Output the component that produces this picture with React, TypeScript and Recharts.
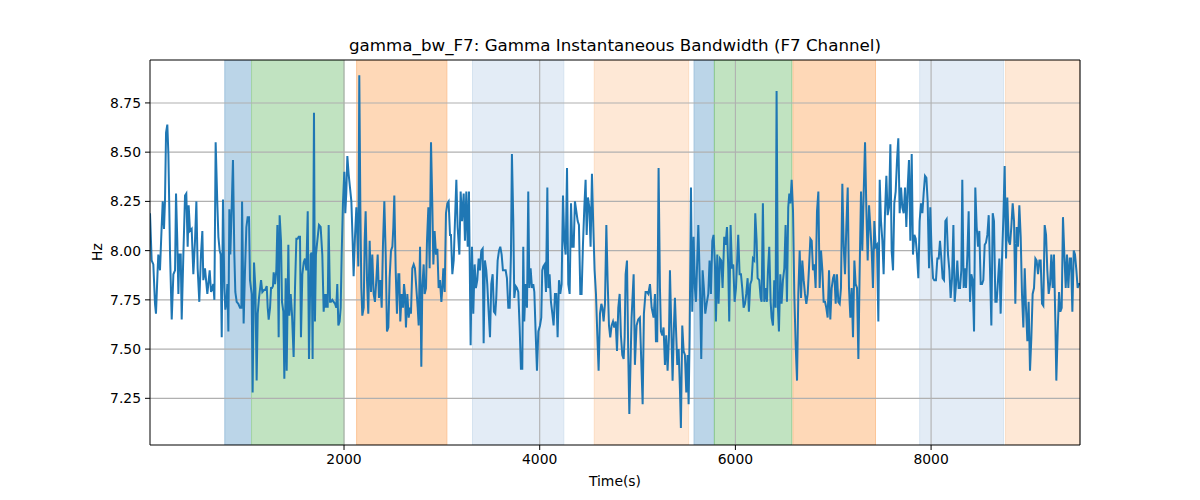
import React from "react";
import {
  LineChart,
  Line,
  XAxis,
  YAxis,
  CartesianGrid,
  ReferenceArea,
  ReferenceLine,
} from "recharts";

// [time (s), bandwidth (Hz)] readings, by stretch of the recording
const seg1: [number, number][] = [
  [17, 8.19], [34, 7.95], [51, 7.93], [68, 7.73], [78, 7.68], [95, 7.9], [102, 7.98], [119, 7.9],
  [136, 8.12], [147, 8.25], [160, 8.11], [170, 8.25], [181, 8.6], [194, 8.64], [205, 8.49], [222, 7.98],
  [239, 7.65], [256, 7.88], [273, 7.9], [283, 8.29], [296, 8.05], [307, 7.78], [317, 7.98], [331, 7.98],
  [341, 7.65], [358, 7.98], [375, 8.28], [388, 8.29], [402, 8.02], [412, 8.23], [426, 8.1], [443, 8.11],
  [460, 7.88], [477, 8.05], [491, 8.25], [504, 7.91], [521, 7.74], [538, 7.98], [552, 8.1], [562, 7.85],
  [579, 7.91], [590, 7.85], [603, 7.78], [613, 7.83], [627, 7.9], [641, 7.79], [654, 7.81], [664, 7.83],
  [675, 7.75], [688, 8.55], [705, 8.24], [716, 8.07], [729, 8.0], [739, 7.98], [750, 7.56], [763, 8.26],
  [777, 7.81], [787, 7.7], [797, 7.73], [808, 7.83], [818, 7.59], [828, 8.21], [838, 7.98], [852, 8.22],
  [865, 8.46], [879, 7.98], [889, 7.79], [903, 7.74], [920, 7.73], [937, 7.71], [951, 7.71], [958, 8.25],
  [974, 7.63], [988, 7.9], [1002, 8.12], [1015, 8.17], [1029, 8.17], [1039, 7.85], [1056, 7.78], [1066, 7.28],
  [1080, 7.94], [1094, 7.81], [1107, 7.34], [1118, 7.68], [1131, 7.76], [1152, 7.85], [1165, 7.79], [1182, 7.8],
  [1193, 7.8], [1210, 7.82], [1220, 7.71], [1230, 7.65], [1244, 7.71], [1254, 7.81], [1264, 7.81], [1274, 7.82],
  [1281, 7.89], [1295, 7.83], [1308, 7.9], [1319, 8.13], [1332, 7.56], [1342, 8.18], [1356, 8.05], [1366, 7.74],
  [1380, 7.69], [1390, 7.35], [1404, 7.86], [1414, 7.39], [1431, 8.03], [1441, 7.67], [1455, 7.78], [1468, 7.68],
  [1485, 7.46], [1499, 7.81], [1513, 8.06], [1526, 8.06], [1537, 8.07], [1550, 8.07], [1560, 7.56], [1574, 7.88],
  [1588, 7.94], [1601, 7.96], [1615, 7.9], [1629, 8.2], [1642, 7.45],
];

const seg2: [number, number][] = [
  [1659, 7.98], [1669, 7.99], [1679, 7.45], [1693, 8.7], [1703, 7.64], [1713, 7.98], [1727, 8.05], [1744, 8.13],
  [1761, 8.12], [1778, 7.98], [1792, 7.69], [1802, 7.78], [1812, 7.71], [1822, 7.78], [1833, 7.71], [1843, 8.13],
  [1857, 7.74], [1867, 7.74], [1880, 7.75], [1894, 7.74], [1908, 7.73], [1921, 7.71], [1931, 7.83], [1942, 7.62],
  [1955, 7.64], [1966, 7.71], [1976, 7.98], [1989, 8.24], [2003, 8.4], [2013, 8.19], [2023, 8.29], [2034, 8.48],
  [2047, 8.39], [2061, 8.32], [2075, 8.25], [2088, 8.05], [2098, 7.87], [2112, 8.07], [2126, 8.22], [2136, 8.08],
  [2146, 7.92], [2156, 8.89], [2167, 8.22], [2177, 7.81], [2187, 7.67], [2201, 7.71], [2211, 8.05], [2221, 8.2],
  [2235, 7.85], [2248, 7.68], [2262, 8.05], [2276, 7.79], [2289, 7.98], [2303, 7.78], [2316, 7.74], [2330, 7.85],
  [2344, 7.98], [2357, 7.76], [2371, 7.85], [2385, 7.71], [2398, 8.03], [2412, 8.25], [2426, 7.98], [2439, 7.59],
  [2453, 7.61], [2466, 7.86], [2480, 8.0], [2494, 8.02], [2504, 8.12], [2514, 8.28], [2528, 7.9], [2541, 7.68],
  [2555, 7.88], [2565, 7.88], [2575, 7.64], [2589, 7.78], [2603, 7.71], [2613, 7.83], [2623, 7.78], [2633, 7.61],
  [2647, 7.78], [2661, 7.66], [2674, 7.71], [2684, 7.68], [2698, 7.91], [2712, 7.93], [2725, 7.91], [2739, 7.81],
  [2753, 7.71], [2763, 7.62], [2777, 8.02], [2790, 7.41], [2800, 7.81], [2814, 7.93], [2824, 7.78], [2838, 7.81],
  [2848, 8.05], [2862, 8.22], [2875, 7.91], [2889, 8.55], [2902, 8.24], [2913, 7.93], [2926, 8.1], [2940, 7.98],
  [2954, 8.01], [2967, 7.81], [2981, 7.85], [2995, 7.74], [3005, 7.81], [3015, 7.91], [3029, 7.79], [3042, 8.19],
  [3056, 8.24], [3069, 8.25], [3083, 8.08], [3093, 8.08], [3107, 7.88], [3121, 7.95], [3134, 8.15], [3148, 8.36],
  [3161, 8.12], [3179, 7.98], [3192, 8.3], [3206, 8.15], [3223, 8.29], [3236, 8.05], [3250, 8.3], [3264, 8.02],
  [3277, 8.3],
];

const seg3: [number, number][] = [
  [3294, 7.52], [3308, 8.02], [3321, 7.68], [3335, 7.93], [3348, 7.81], [3362, 7.85], [3376, 7.96], [3389, 7.9],
  [3403, 8.0], [3417, 8.01], [3427, 7.53], [3440, 7.95], [3454, 7.9], [3464, 7.83], [3478, 7.69], [3492, 7.56],
  [3505, 7.83], [3519, 7.88], [3532, 7.69], [3546, 7.68], [3556, 7.76], [3570, 7.95], [3584, 8.0], [3597, 8.02],
  [3611, 7.98], [3624, 7.9], [3638, 7.9], [3652, 7.9], [3665, 7.86], [3679, 7.71], [3693, 7.71], [3706, 7.98],
  [3716, 8.49], [3730, 8.15], [3740, 7.76], [3754, 7.82], [3767, 7.81], [3781, 7.79], [3795, 7.61], [3808, 7.4],
  [3822, 7.4], [3832, 8.02], [3842, 7.64], [3856, 7.83], [3870, 7.71], [3883, 8.3], [3894, 7.81], [3907, 7.91],
  [3921, 7.81], [3934, 7.83], [3945, 7.79], [3958, 7.59], [3972, 7.39], [3986, 7.59], [4003, 7.62], [4016, 7.66],
  [4026, 7.9], [4037, 7.92], [4050, 7.93], [4064, 7.79], [4078, 8.32], [4088, 7.81], [4101, 7.88], [4115, 7.74],
  [4129, 7.68], [4142, 7.62], [4156, 7.78], [4170, 7.78], [4183, 7.56], [4197, 7.85], [4210, 7.78], [4224, 7.83],
  [4238, 8.28], [4251, 8.05], [4265, 7.98], [4279, 8.42], [4292, 7.83], [4306, 7.78], [4320, 8.24], [4333, 8.02],
  [4347, 8.02], [4360, 8.25], [4374, 8.2], [4388, 8.15], [4401, 8.13], [4415, 7.78], [4428, 7.78], [4442, 8.03],
  [4456, 8.22], [4469, 8.36], [4480, 8.08], [4493, 8.27], [4507, 8.22], [4520, 8.02], [4534, 8.39], [4548, 8.12],
  [4561, 7.9], [4575, 7.78], [4589, 7.57], [4602, 7.39], [4616, 7.68], [4630, 7.73], [4640, 7.71], [4653, 7.64],
  [4667, 7.73], [4681, 8.13], [4694, 7.85], [4708, 7.62], [4721, 7.56], [4735, 7.62], [4749, 7.64], [4762, 7.61],
  [4776, 7.64], [4790, 7.49], [4803, 7.71], [4817, 7.78], [4830, 7.57], [4844, 7.47], [4858, 7.45], [4868, 7.56],
  [4878, 7.88], [4892, 7.95], [4905, 7.47], [4916, 7.17],
];

const seg4: [number, number][] = [
  [4939, 7.66], [4960, 7.88], [4973, 7.42], [4990, 7.62], [5007, 7.65], [5024, 7.66], [5041, 7.39], [5052, 7.22],
  [5065, 7.68], [5082, 7.79], [5096, 7.79], [5110, 7.78], [5127, 7.83], [5144, 7.71], [5164, 7.66], [5178, 7.78],
  [5188, 7.54], [5201, 7.54], [5215, 8.42], [5229, 7.81], [5239, 7.59], [5253, 7.57], [5266, 7.61], [5280, 7.42],
  [5293, 7.57], [5307, 7.39], [5321, 7.56], [5331, 7.9], [5345, 7.61], [5358, 7.34], [5372, 7.62], [5382, 7.76],
  [5396, 7.56], [5406, 7.42], [5420, 7.5], [5433, 7.3], [5443, 7.1], [5457, 7.62], [5471, 7.49], [5484, 7.47],
  [5498, 7.28], [5511, 7.47], [5522, 7.22], [5532, 7.56], [5546, 8.32], [5559, 7.69], [5573, 8.07], [5586, 7.81],
  [5597, 7.74], [5610, 7.95], [5621, 8.13], [5638, 7.81], [5651, 7.45], [5665, 7.9], [5678, 7.81], [5692, 7.68],
  [5706, 7.73], [5723, 7.78], [5736, 7.95], [5750, 7.78], [5764, 8.05], [5777, 8.08], [5791, 7.93], [5801, 7.64],
  [5815, 7.98], [5828, 7.73], [5842, 7.96], [5856, 7.95], [5869, 7.81], [5886, 8.07], [5900, 8.03], [5914, 8.12],
  [5927, 7.91], [5937, 7.64], [5951, 8.13], [5965, 7.91], [5978, 7.93], [5992, 7.74], [6006, 7.81], [6019, 7.96],
  [6029, 8.08], [6043, 7.88], [6057, 7.88], [6070, 7.81], [6084, 7.71], [6098, 7.73], [6111, 7.78], [6125, 7.86],
  [6138, 7.69], [6152, 7.83], [6166, 7.85], [6179, 7.96], [6193, 7.95], [6203, 8.19], [6217, 8.05], [6227, 7.86],
  [6244, 7.85], [6258, 7.76], [6268, 7.74], [6281, 8.24], [6295, 7.74], [6309, 7.81], [6322, 7.74], [6333, 7.9],
  [6346, 8.02], [6360, 7.74], [6370, 7.66], [6384, 7.62], [6397, 7.85], [6411, 7.71], [6421, 8.81], [6435, 7.71],
  [6445, 7.59], [6459, 7.88], [6472, 7.73], [6486, 7.85], [6500, 7.91], [6513, 8.13], [6527, 7.74], [6540, 8.22],
  [6551, 8.29],
];

const seg5: [number, number][] = [
  [6562, 8.24], [6575, 8.36], [6589, 8.2], [6602, 7.78], [6616, 7.52], [6630, 7.34], [6643, 7.78], [6657, 8.0],
  [6671, 7.76], [6684, 7.95], [6698, 7.85], [6711, 7.78], [6725, 7.73], [6739, 7.78], [6752, 7.91], [6766, 8.06],
  [6780, 8.05], [6793, 7.9], [6807, 7.93], [6820, 7.81], [6834, 8.2], [6848, 8.3], [6861, 7.81], [6875, 8.0],
  [6889, 7.9], [6902, 7.74], [6916, 7.74], [6929, 7.71], [6943, 7.66], [6957, 7.9], [6970, 7.65], [6984, 7.81],
  [6998, 7.86], [7011, 7.88], [7025, 7.73], [7038, 7.88], [7052, 7.74], [7066, 7.73], [7079, 7.81], [7093, 8.34],
  [7107, 8.02], [7120, 7.88], [7134, 8.12], [7148, 8.32], [7161, 7.81], [7175, 7.66], [7188, 7.81], [7202, 7.56],
  [7216, 7.95], [7229, 7.83], [7243, 7.81], [7257, 7.45], [7270, 7.9], [7284, 8.3], [7297, 8.0], [7311, 8.29],
  [7325, 8.55], [7338, 8.22], [7352, 7.95], [7366, 8.23], [7379, 8.12], [7393, 8.0], [7406, 7.81], [7420, 8.15],
  [7434, 8.02], [7447, 8.03], [7461, 7.64], [7475, 8.36], [7488, 8.15], [7502, 8.05], [7515, 7.88], [7529, 8.19],
  [7543, 8.38], [7556, 8.18], [7570, 8.22], [7584, 8.54], [7597, 8.0], [7611, 7.9], [7624, 8.24], [7638, 8.3],
  [7652, 8.46], [7665, 8.57], [7679, 8.19], [7693, 8.32], [7706, 8.22], [7720, 8.19], [7734, 8.32], [7747, 8.12],
  [7761, 8.32], [7774, 8.46], [7788, 8.05], [7802, 8.49], [7815, 7.98], [7829, 8.08], [7843, 8.06], [7856, 7.98],
  [7870, 7.86], [7883, 8.15], [7897, 8.24], [7911, 8.19], [7924, 8.29], [7938, 8.38], [7952, 8.37], [7965, 8.25],
  [7979, 7.91], [7992, 8.22], [8006, 7.98], [8020, 7.86], [8033, 7.85],
];

const seg6: [number, number][] = [
  [8050, 7.85], [8064, 7.96], [8078, 7.96], [8091, 8.05], [8105, 7.96], [8118, 7.86], [8132, 7.85], [8146, 8.15],
  [8159, 8.16], [8173, 7.98], [8187, 7.9], [8200, 7.76], [8214, 7.86], [8228, 8.13], [8241, 7.74], [8255, 7.83],
  [8268, 7.95], [8282, 7.81], [8296, 7.81], [8309, 7.9], [8319, 8.36], [8333, 7.81], [8347, 7.91], [8357, 7.81],
  [8371, 7.98], [8384, 8.2], [8398, 7.74], [8411, 7.88], [8425, 7.85], [8439, 7.59], [8452, 8.32], [8466, 8.12],
  [8480, 8.02], [8493, 8.1], [8507, 7.83], [8521, 7.83], [8534, 7.85], [8548, 8.03], [8561, 8.04], [8575, 8.08],
  [8589, 8.18], [8602, 7.91], [8616, 7.62], [8630, 8.19], [8643, 8.15], [8657, 7.74], [8670, 7.74], [8684, 7.85],
  [8698, 7.96], [8711, 7.68], [8725, 7.96], [8739, 8.17], [8752, 8.43], [8766, 7.96], [8779, 8.27], [8793, 8.05],
  [8807, 8.03], [8820, 8.12], [8834, 8.24], [8848, 8.15], [8861, 7.73], [8875, 8.12], [8888, 8.02], [8902, 8.23],
  [8916, 8.07], [8929, 7.78], [8943, 7.61], [8957, 7.91], [8970, 7.71], [8984, 7.54], [8997, 7.74], [9011, 7.39],
  [9025, 7.56], [9038, 7.78], [9052, 7.81], [9066, 7.96], [9079, 7.95], [9093, 7.88], [9107, 7.95], [9120, 7.95],
  [9134, 7.73], [9147, 7.72], [9161, 8.13], [9175, 8.08], [9188, 7.9], [9202, 7.78], [9216, 7.83], [9229, 7.98],
  [9243, 7.81], [9256, 7.98], [9270, 7.64], [9280, 7.34], [9294, 7.59], [9308, 7.79], [9321, 7.69], [9335, 7.71],
  [9348, 8.17], [9362, 7.98], [9376, 7.81], [9389, 7.98], [9403, 7.81], [9417, 7.96], [9430, 7.96], [9444, 7.69],
  [9458, 8.0], [9471, 7.98], [9485, 7.9], [9498, 7.81], [9512, 7.83], [9522, 7.83],
];

// shaded intervals: [start, end, fill, edge]
const spans: [number, number, string, string][] = [
  [782, 1055, "#bbd5e8", "#9fc2dc"],
  [1055, 1999, "#c1e3c1", "#a3d3a3"],
  [2129, 3051, "#fed8b7", "#fcc597"],
  [3313, 4246, "#e3ecf6", "#d5e3f0"],
  [4558, 5522, "#fee8d6", "#fcdcc2"],
  [5578, 5785, "#bbd5e8", "#9fc2dc"],
  [5785, 6578, "#c1e3c1", "#8cc98c"],
  [6589, 7432, "#fed8b7", "#fcc597"],
  [7884, 8741, "#e3ecf6", "#d5e3f0"],
  [8762, 9522, "#fee8d6", "#fcdcc2"],
];

const xTicks = [2000, 4000, 6000, 8000];
const yTicks = [7.25, 7.5, 7.75, 8.0, 8.25, 8.5, 8.75];
const xDomain: [number, number] = [17, 9522];
const yDomain: [number, number] = [7.013, 8.968];

const series = [...seg1, ...seg2, ...seg3, ...seg4, ...seg5, ...seg6].map(([t, v]) => ({ t, v }));

const FONT = "'DejaVu Sans', sans-serif";

export default function App() {
  return (
    <div style={{ position: "absolute", left: 0, top: 0, width: 1200, height: 500, background: "#fff", fontFamily: FONT }}>
      <LineChart
        width={1200}
        height={500}
        data={series}
        margin={{ top: 60, right: 120, bottom: 25, left: 0 }}
      >
        {spans.map(([a, b, fill, edge], i) => (
          <ReferenceArea
            key={i}
            x1={a}
            x2={b}
            y1={yDomain[0]}
            y2={yDomain[1]}
            fill={fill}
            fillOpacity={1}
            stroke={edge}
            strokeWidth={1}
            ifOverflow="hidden"
            zIndex={-300}
          />
        ))}
        <CartesianGrid stroke="#b0b0b0" strokeWidth={1.1} horizontalValues={yTicks} verticalValues={xTicks} zIndex={-100} />
        <XAxis
          dataKey="t"
          type="number"
          domain={xDomain}
          ticks={xTicks}
          allowDataOverflow
          height={30}
          tickSize={5}
          tickMargin={4}
          stroke="#000"
          tick={{ fill: "#000", fontSize: 13.9, fontFamily: FONT }}
          tickLine={{ stroke: "#000" }}
        />
        <YAxis
          dataKey="v"
          type="number"
          domain={yDomain}
          ticks={yTicks}
          allowDataOverflow
          width={150}
          tickSize={5}
          tickMargin={4}
          stroke="#000"
          tickFormatter={(v: number) => v.toFixed(2)}
          tick={{ fill: "#000", fontSize: 13.9, fontFamily: FONT }}
          tickLine={{ stroke: "#000" }}
        />
        <Line
          type="linear"
          dataKey="v"
          stroke="#1f77b4"
          strokeWidth={2}
          dot={false}
          isAnimationActive={false}
        />
        <ReferenceLine y={yDomain[1]} stroke="#000" strokeWidth={1.1} ifOverflow="visible" />
        <ReferenceLine x={xDomain[1]} stroke="#000" strokeWidth={1.1} ifOverflow="visible" />
      </LineChart>
      <div style={{ position: "absolute", left: 150, width: 930, top: 35, textAlign: "center", fontSize: 16.7, color: "#000", lineHeight: "20px" }}>
        gamma_bw_F7: Gamma Instantaneous Bandwidth (F7 Channel)
      </div>
      <div style={{ position: "absolute", left: 150, width: 930, top: 472, textAlign: "center", fontSize: 13.9, color: "#000", lineHeight: "18px" }}>
        Time(s)
      </div>
      <div style={{ position: "absolute", left: 97, top: 252, transform: "translate(-50%, -50%) rotate(-90deg)", fontSize: 13.9, color: "#000", lineHeight: "18px", whiteSpace: "nowrap" }}>
        Hz
      </div>
    </div>
  );
}
